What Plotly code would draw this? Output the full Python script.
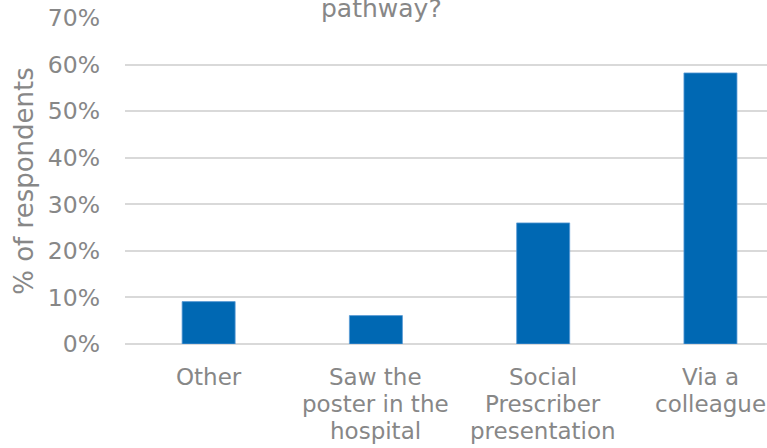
import plotly.graph_objects as go

categories = ["Other", "Saw the poster in the hospital", "Social Prescriber presentation", "Via a colleague"]
category_label_lines = [
    ["Other"],
    ["Saw the", "poster in the", "hospital"],
    ["Social", "Prescriber", "presentation"],
    ["Via a", "colleague"],
]
values = [0.091, 0.061, 0.260, 0.582]
y_ticks = [0, 0.1, 0.2, 0.3, 0.4, 0.5, 0.6, 0.7]
y_tick_labels = ["0%", "10%", "20%", "30%", "40%", "50%", "60%", "70%"]
title_tail = "pathway?"
y_title = "% of respondents"

FONT = "DejaVu Sans"
GREY = "#878787"

fig = go.Figure()
fig.add_trace(go.Bar(
    x=categories,
    y=values,
    width=0.317,
    marker=dict(color="#0068B3", line=dict(color="#5B9BD5", width=0.8)),
))

annotations = [dict(
    text=title_tail, xref="paper", yref="paper",
    x=0.399, y=1.0, xanchor="center", yanchor="bottom", yshift=-7,
    showarrow=False, font=dict(size=25, color=GREY, family=FONT),
)]
for cat, lines in zip(categories, category_label_lines):
    for j, line in enumerate(lines):
        annotations.append(dict(
            text=line, xref="x", yref="paper", x=cat, y=0,
            xanchor="center", yanchor="top", yshift=-18 - 27 * j,
            showarrow=False, font=dict(size=23, color=GREY, family=FONT),
        ))

fig.update_layout(
    width=767, height=448,
    margin=dict(l=125, r=0, t=18, b=104),
    paper_bgcolor="white", plot_bgcolor="white",
    showlegend=False,
    font=dict(family=FONT, color=GREY),
    xaxis=dict(
        type="category",
        range=[-0.5, 3.338],
        showticklabels=False,
        showgrid=False, zeroline=False, showline=False,
        ticks="",
    ),
    yaxis=dict(
        range=[0, 0.7],
        tickmode="array",
        tickvals=y_ticks,
        ticktext=y_tick_labels,
        tickfont=dict(size=23.5, color=GREY, family=FONT),
        showgrid=True, gridcolor="#D9D9D9", gridwidth=1.5,
        zeroline=True, zerolinecolor="#D9D9D9", zerolinewidth=1.5,
        showline=False, ticks="", ticklabelstandoff=24,
        title=dict(text=y_title, font=dict(size=26, color=GREY, family=FONT), standoff=6),
    ),
    annotations=annotations,
)

fig.write_html("out.html")
